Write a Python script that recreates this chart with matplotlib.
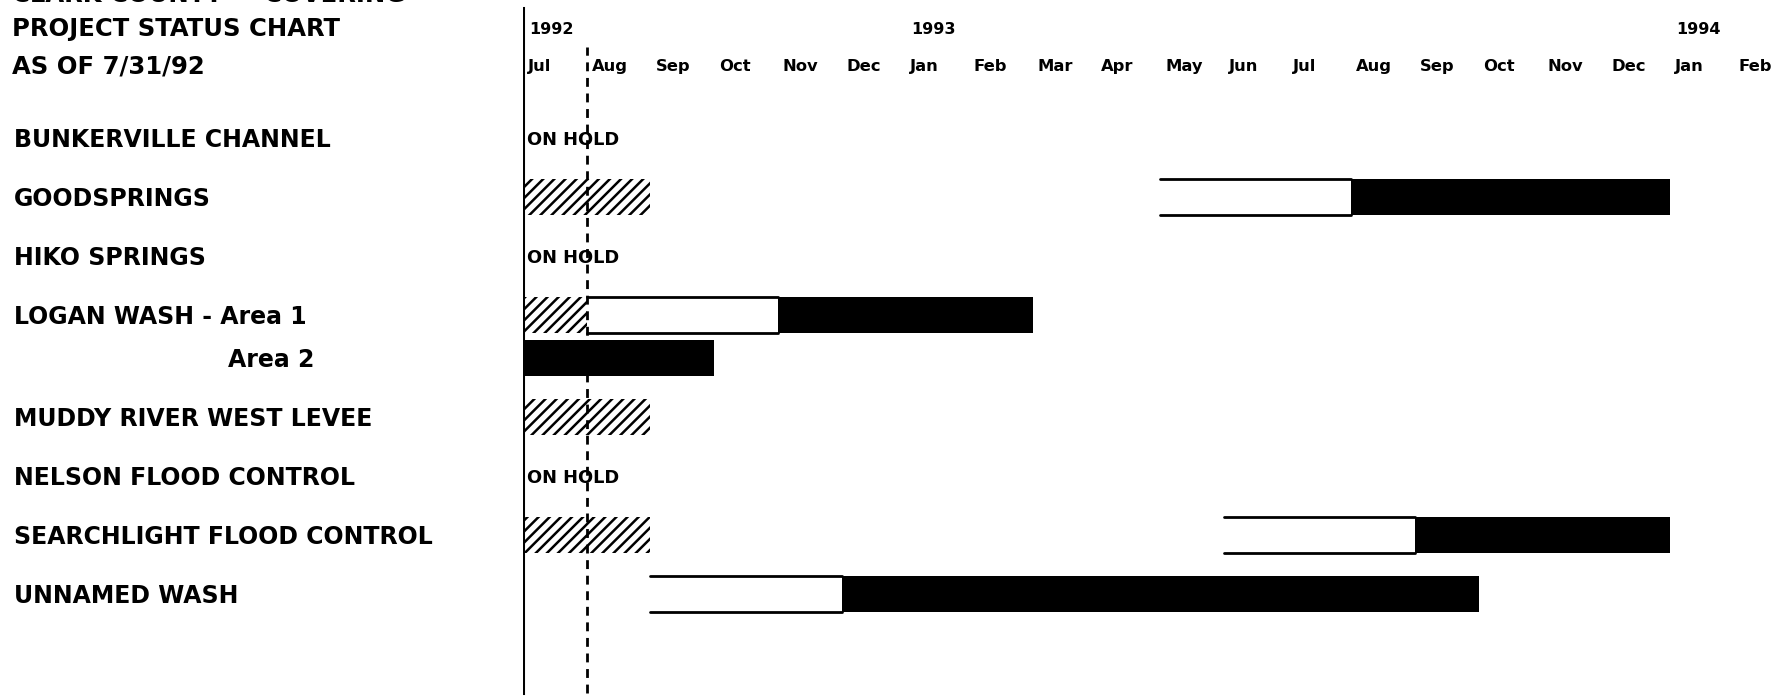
import matplotlib.pyplot as plt
from matplotlib.transforms import blended_transform_factory

plt.rcParams["font.family"] = ["DejaVu Sans"]
plt.rcParams["font.weight"] = "bold"
plt.rcParams["hatch.linewidth"] = 1.8

# chart data: months counted from Jul 1992 (0 = start of Jul 1992)
title_lines = ["CLARK COUNTY \u2014 COVERING", "PROJECT STATUS CHART", "AS OF 7/31/92"]
months = ["Jul", "Aug", "Sep", "Oct", "Nov", "Dec", "Jan", "Feb", "Mar", "Apr",
          "May", "Jun", "Jul", "Aug", "Sep", "Oct", "Nov", "Dec", "Jan", "Feb"]
years = ["1992", "1993", "1994"]
year_start = [0, 6, 18]
status_date = 1  # 7/31/92

rows = ["BUNKERVILLE CHANNEL", "GOODSPRINGS", "HIKO SPRINGS", "LOGAN WASH - Area 1",
        "Area 2", "MUDDY RIVER WEST LEVEE", "NELSON FLOOD CONTROL",
        "SEARCHLIGHT FLOOD CONTROL", "UNNAMED WASH"]
sub_row = [False, False, False, False, True, False, False, False, False]
on_hold = [0, 2, 6]

seg_row = [1, 1, 1, 3, 3, 3, 4, 5, 7, 7, 7, 8, 8]
seg_start = [0, 10, 13, 0, 1, 4, 0, 0, 0, 11, 14, 2, 5]
seg_end = [2, 13, 18, 1, 4, 8, 3, 2, 2, 14, 18, 5, 15]
seg_kind = ["hatch", "open", "solid", "hatch", "open", "solid", "solid",
            "hatch", "hatch", "open", "solid", "open", "solid"]

# row positions: sub-rows sit closer to the row above
row_y = []
y = 0.0
for i, sub in enumerate(sub_row):
    if i > 0:
        y += 0.73 if sub else 1.0
    row_y.append(y)

fig = plt.figure(figsize=(17.9, 6.96), dpi=100)
ax = fig.add_axes([523 / 1790, 0, 1 - 523 / 1790, 1])
ax.set_xlim(0, 19.89)
ax.set_ylim(9.46, -2.34)
ax.axis("off")

bar_h = 0.62
for r, s, e, k in zip(seg_row, seg_start, seg_end, seg_kind):
    yc = row_y[r]
    if k == "hatch":
        ax.barh(yc, e - s, left=s, height=bar_h, color="white",
                edgecolor="black", linewidth=0, hatch="///")
    elif k == "solid":
        ax.barh(yc, e - s, left=s, height=bar_h, color="black", linewidth=0)
    else:
        ax.barh(yc, e - s, left=s, height=bar_h, color="white", linewidth=0)
        ax.hlines([yc - bar_h / 2, yc + bar_h / 2], s, e, color="black",
                  linewidth=2, capstyle="round")

for r in on_hold:
    ax.text(0.07, row_y[r] + 0.03, "ON HOLD", fontsize=12.8, ha="left", va="center")

# header
for i, m in enumerate(months):
    ax.text(i + 0.08, -1.22, m, fontsize=11.8, ha="left", va="center")
for yr, st in zip(years, year_start):
    ax.text(st + 0.1, -1.84, yr, fontsize=11.5, ha="left", va="center")

ax.axvline(0, ymin=0.004, ymax=0.988, color="black", linewidth=2.2)
ax.axvline(status_date, ymin=0.004, ymax=0.932, color="black", linewidth=2,
           dashes=(3.2, 2.4))

# left side labels
trans = blended_transform_factory(fig.transFigure, ax.transData)
for txt, yy in zip(title_lines, [-2.43, -1.84, -1.22]):
    ax.text(12 / 1790, yy, txt, transform=trans, fontsize=17.5, ha="left",
            va="center", clip_on=False)
for lab, yy, sub in zip(rows, row_y, sub_row):
    x0 = 228 / 1790 if sub else 14 / 1790
    ax.text(x0, yy + 0.03, lab, transform=trans, fontsize=17, ha="left",
            va="center", clip_on=False)

fig.savefig("out.png", dpi=100)
